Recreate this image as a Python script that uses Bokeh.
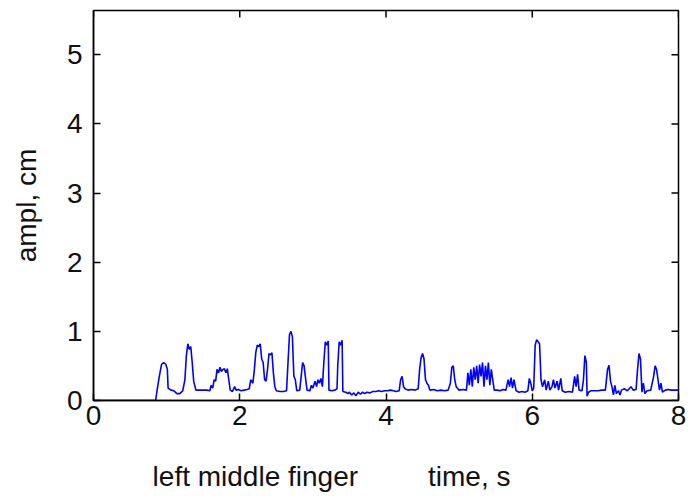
from bokeh.plotting import figure
from bokeh.models import Range1d, FixedTicker
from bokeh.embed import file_html
from bokeh.resources import INLINE

# time (s) and amplitude (cm)
time_s = [
    0.00, 0.85, 0.87, 0.90, 0.93, 0.96, 0.99, 1.01, 1.02, 1.06, 1.10, 1.14, 1.18, 1.22,
    1.25, 1.27, 1.29, 1.31, 1.33, 1.35, 1.37, 1.40, 1.45, 1.50, 1.55, 1.59, 1.61, 1.63,
    1.65, 1.67, 1.69, 1.71, 1.73, 1.75, 1.77, 1.79, 1.81, 1.83, 1.85, 1.87, 1.90, 1.93,
    1.95, 1.98, 2.02, 2.06, 2.10, 2.13, 2.15, 2.18, 2.20, 2.22, 2.24, 2.26, 2.28, 2.30,
    2.32, 2.34, 2.36, 2.38, 2.40, 2.42, 2.44, 2.46, 2.48, 2.50, 2.55, 2.60, 2.64, 2.66,
    2.68, 2.70, 2.72, 2.74, 2.76, 2.78, 2.82, 2.84, 2.86, 2.88, 2.90, 2.92, 2.96, 2.98,
    3.00, 3.03, 3.05, 3.07, 3.09, 3.11, 3.13, 3.15, 3.17, 3.19, 3.21, 3.22, 3.26, 3.30,
    3.33, 3.34, 3.36, 3.38, 3.40, 3.41, 3.45, 3.48, 3.50, 3.53, 3.56, 3.59, 3.62, 3.65,
    3.68, 3.71, 3.74, 3.78, 3.82, 3.86, 3.90, 3.94, 3.98, 4.02, 4.06, 4.10, 4.14, 4.18,
    4.20, 4.22, 4.24, 4.26, 4.30, 4.35, 4.40, 4.44, 4.46, 4.48, 4.50, 4.52, 4.54, 4.56,
    4.58, 4.60, 4.65, 4.70, 4.75, 4.80, 4.85, 4.88, 4.90, 4.92, 4.94, 4.96, 5.00, 5.05,
    5.10, 5.12, 5.14, 5.16, 5.18, 5.20, 5.22, 5.24, 5.26, 5.28, 5.30, 5.32, 5.34, 5.36,
    5.38, 5.40, 5.42, 5.44, 5.46, 5.48, 5.52, 5.56, 5.60, 5.64, 5.67, 5.69, 5.71, 5.73,
    5.75, 5.78, 5.82, 5.86, 5.90, 5.94, 5.96, 5.98, 6.00, 6.02, 6.04, 6.06, 6.08, 6.10,
    6.12, 6.14, 6.17, 6.19, 6.22, 6.24, 6.27, 6.29, 6.31, 6.34, 6.36, 6.39, 6.41, 6.45,
    6.50, 6.55, 6.58, 6.60, 6.62, 6.64, 6.68, 6.70, 6.72, 6.74, 6.75, 6.77, 6.80, 6.85,
    6.90, 6.95, 7.00, 7.03, 7.05, 7.07, 7.09, 7.11, 7.13, 7.15, 7.18, 7.20, 7.22, 7.26,
    7.30, 7.35, 7.38, 7.42, 7.44, 7.46, 7.48, 7.50, 7.52, 7.54, 7.57, 7.62, 7.66, 7.68,
    7.70, 7.72, 7.74, 7.76, 7.78, 7.82, 7.86, 7.90, 7.95, 8.00,
]
ampl_cm = [
    0.00, 0.00, 0.15, 0.35, 0.52, 0.55, 0.52, 0.45, 0.18, 0.15, 0.14, 0.10, 0.10, 0.14,
    0.30, 0.65, 0.82, 0.74, 0.78, 0.55, 0.28, 0.15, 0.15, 0.15, 0.15, 0.14, 0.22, 0.18,
    0.30, 0.28, 0.45, 0.40, 0.48, 0.42, 0.45, 0.46, 0.40, 0.46, 0.30, 0.15, 0.13, 0.20,
    0.15, 0.16, 0.14, 0.15, 0.16, 0.17, 0.30, 0.25, 0.45, 0.70, 0.80, 0.78, 0.82, 0.60,
    0.55, 0.30, 0.28, 0.45, 0.68, 0.66, 0.69, 0.40, 0.20, 0.14, 0.13, 0.13, 0.14, 0.55,
    0.95, 1.00, 0.92, 0.35, 0.30, 0.14, 0.15, 0.35, 0.55, 0.50, 0.32, 0.15, 0.14, 0.22,
    0.18, 0.28, 0.20, 0.30, 0.25, 0.32, 0.20, 0.55, 0.85, 0.80, 0.86, 0.15, 0.14, 0.15,
    0.17, 0.50, 0.85, 0.80, 0.87, 0.13, 0.12, 0.10, 0.12, 0.08, 0.11, 0.07, 0.12, 0.09,
    0.12, 0.10, 0.12, 0.11, 0.13, 0.13, 0.14, 0.13, 0.14, 0.14, 0.15, 0.14, 0.13, 0.14,
    0.30, 0.35, 0.20, 0.17, 0.15, 0.16, 0.15, 0.17, 0.45, 0.62, 0.68, 0.60, 0.30, 0.25,
    0.22, 0.15, 0.16, 0.14, 0.15, 0.14, 0.15, 0.25, 0.48, 0.50, 0.30, 0.20, 0.15, 0.16,
    0.15, 0.40, 0.22, 0.45, 0.20, 0.48, 0.30, 0.50, 0.25, 0.52, 0.35, 0.55, 0.20, 0.50,
    0.30, 0.55, 0.22, 0.45, 0.30, 0.15, 0.15, 0.14, 0.16, 0.15, 0.30, 0.20, 0.33, 0.18,
    0.30, 0.14, 0.12, 0.13, 0.12, 0.14, 0.32, 0.25, 0.14, 0.18, 0.80, 0.88, 0.85, 0.82,
    0.30, 0.20, 0.30, 0.15, 0.28, 0.15, 0.20, 0.30, 0.18, 0.28, 0.15, 0.32, 0.14, 0.12,
    0.13, 0.12, 0.35, 0.20, 0.38, 0.15, 0.14, 0.30, 0.65, 0.55, 0.06, 0.12, 0.14, 0.14,
    0.14, 0.15, 0.15, 0.45, 0.51, 0.28, 0.20, 0.08, 0.22, 0.10, 0.14, 0.08, 0.15, 0.17,
    0.14, 0.20, 0.15, 0.16, 0.45, 0.68, 0.60, 0.12, 0.25, 0.10, 0.14, 0.15, 0.35, 0.50,
    0.45, 0.30, 0.15, 0.25, 0.12, 0.15, 0.16, 0.15, 0.15, 0.15,
]
x_ticks = [0, 2, 4, 6, 8]
y_ticks = [0, 1, 2, 3, 4, 5]
y_label = "ampl, cm"
caption_left = "left middle finger"
caption_right = "time, s"

FONT = "Liberation Sans"
FS = "28px"
X_MAX, Y_MAX = 8, 5.64
FRAME_W, FRAME_H = 585, 390
TICK_PX = 7

p = figure(width=688, height=498, output_backend="svg", toolbar_location=None,
           x_range=Range1d(0, X_MAX), y_range=Range1d(0, Y_MAX),
           min_border_left=93, min_border_right=10, min_border_top=10,
           min_border_bottom=98)
p.background_fill_color = "white"
p.border_fill_color = "white"
p.outline_line_color = "black"
p.outline_line_width = 1.5
p.grid.visible = False

p.line(time_s, ampl_cm, line_color="#0000ff", line_width=1.6)

for ax in (p.xaxis[0], p.yaxis[0]):
    ax.major_tick_in = TICK_PX
    ax.major_tick_out = 0
    ax.minor_tick_line_color = None
    ax.axis_line_color = "black"
    ax.axis_line_width = 1.5
    ax.major_tick_line_color = "black"
    ax.major_tick_line_width = 1.5
    ax.major_label_text_font = FONT
    ax.major_label_text_font_size = FS
    ax.major_label_text_color = "#111111"
    ax.axis_label_text_font = FONT
    ax.axis_label_text_font_size = FS
    ax.axis_label_text_font_style = "normal"
    ax.axis_label_text_color = "#111111"

p.xaxis[0].ticker = FixedTicker(ticks=x_ticks)
p.yaxis[0].ticker = FixedTicker(ticks=y_ticks)
p.xaxis[0].major_label_standoff = 5
p.yaxis[0].major_label_standoff = 11
p.yaxis[0].axis_label = y_label
p.yaxis[0].axis_label_standoff = 22

# caption line under the x tick labels (left part shifted off-centre as in the reference)
p.xaxis[0].axis_label = caption_left + "\u00a0" * 9 + caption_right + "\u00a0" * 14
p.xaxis[0].axis_label_standoff = 33

# mirrored inward ticks on the top and right edges of the box
dy = TICK_PX * Y_MAX / FRAME_H
dx = TICK_PX * X_MAX / FRAME_W
p.segment(x0=x_ticks, y0=[Y_MAX] * len(x_ticks), x1=x_ticks, y1=[Y_MAX - dy] * len(x_ticks),
          line_color="black", line_width=1.5)
p.segment(x0=[X_MAX] * len(y_ticks), y0=y_ticks, x1=[X_MAX - dx] * len(y_ticks), y1=y_ticks,
          line_color="black", line_width=1.5)

open("out.html", "w").write(file_html(p, INLINE))
